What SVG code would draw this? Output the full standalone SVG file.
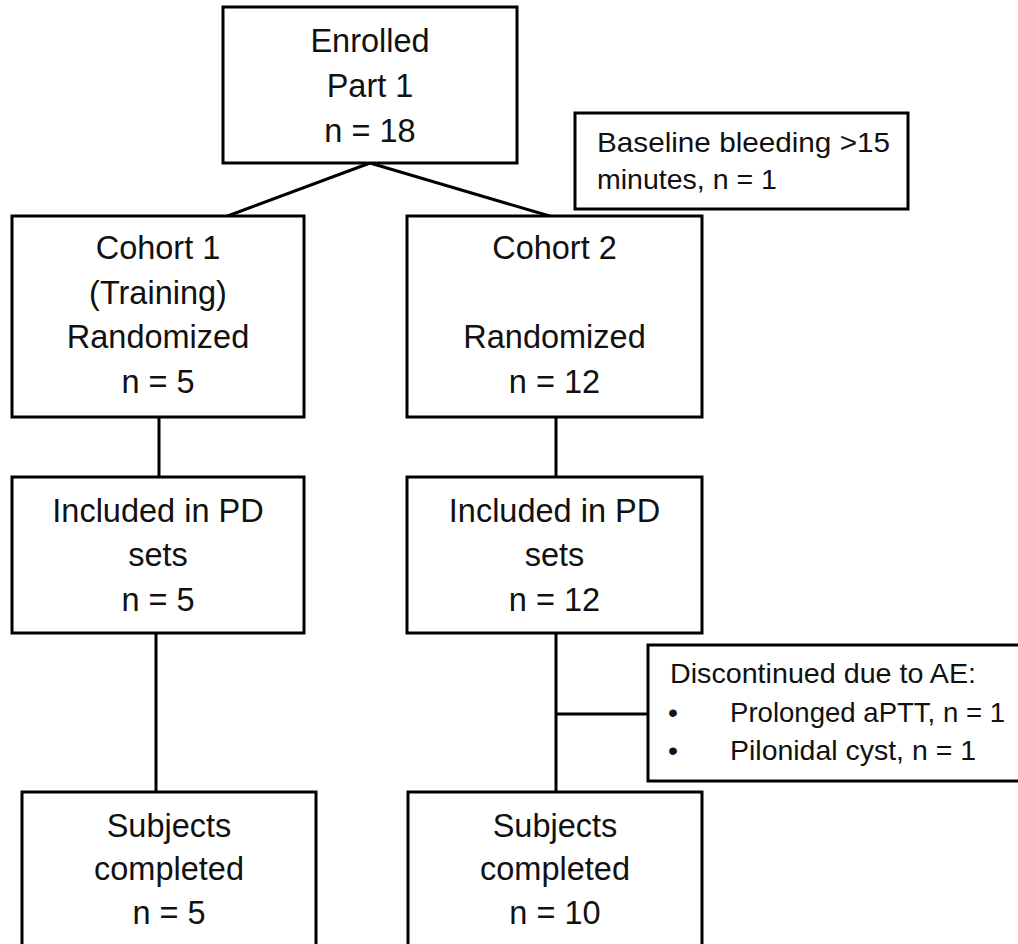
<svg xmlns="http://www.w3.org/2000/svg" width="1018" height="944" viewBox="0 0 1018 944">
<style>
.box{fill:#fff;stroke:#000;stroke-width:3}
.t{font-family:"Liberation Sans",Arial,sans-serif;font-size:32.5px;fill:#111;text-anchor:middle}
.s{font-family:"Liberation Sans",Arial,sans-serif;font-size:28.5px;fill:#111}
.c{stroke:#000;stroke-width:3;fill:none}
</style>
<rect width="1018" height="944" fill="#fff"/>
<g id="connectors">
<line class="c" x1="370" y1="163" x2="225" y2="217" stroke-width="4"/>
<line class="c" x1="370" y1="163" x2="553" y2="217" stroke-width="4"/>
<line class="c" x1="159" y1="417" x2="159" y2="477"/>
<line class="c" x1="556" y1="417" x2="556" y2="477"/>
<line class="c" x1="156" y1="633" x2="156" y2="792"/>
<line class="c" x1="556" y1="633" x2="556" y2="792"/>
<line class="c" x1="556" y1="714" x2="648" y2="714"/>
</g>
<g id="enrolled">
<rect class="box" x="223" y="7" width="294" height="156"/>
<text class="t" x="370" y="52">Enrolled</text>
<text class="t" x="370" y="97">Part 1</text>
<text class="t" x="370" y="142">n = 18</text>
</g>
<g id="baseline">
<rect class="box" x="575" y="113" width="333" height="96"/>
<text class="s" x="597" y="152" textLength="293" lengthAdjust="spacingAndGlyphs">Baseline bleeding &gt;15</text>
<text class="s" x="597" y="189">minutes, n = 1</text>
</g>
<g id="cohort1">
<rect class="box" x="12" y="216" width="292" height="201"/>
<text class="t" x="158" y="259">Cohort 1</text>
<text class="t" x="158" y="304">(Training)</text>
<text class="t" x="158" y="348">Randomized</text>
<text class="t" x="158" y="393">n = 5</text>
</g>
<g id="cohort2">
<rect class="box" x="407" y="216" width="295" height="201"/>
<text class="t" x="554.5" y="259">Cohort 2</text>
<text class="t" x="554.5" y="348">Randomized</text>
<text class="t" x="554.5" y="393">n = 12</text>
</g>
<g id="pd1">
<rect class="box" x="12" y="477" width="292" height="156"/>
<text class="t" x="158" y="522">Included in PD</text>
<text class="t" x="158" y="566">sets</text>
<text class="t" x="158" y="611">n = 5</text>
</g>
<g id="pd2">
<rect class="box" x="407" y="477" width="295" height="156"/>
<text class="t" x="554.5" y="522">Included in PD</text>
<text class="t" x="554.5" y="566">sets</text>
<text class="t" x="554.5" y="611">n = 12</text>
</g>
<g id="discontinued">
<rect class="box" x="648" y="645" width="380" height="136"/>
<text class="s" x="670" y="683" textLength="306" lengthAdjust="spacingAndGlyphs">Discontinued due to AE:</text>
<text class="s" x="668" y="722">•</text>
<text class="s" x="730" y="722" textLength="275" lengthAdjust="spacingAndGlyphs">Prolonged aPTT, n = 1</text>
<text class="s" x="668" y="760">•</text>
<text class="s" x="730" y="760" textLength="246" lengthAdjust="spacingAndGlyphs">Pilonidal cyst, n = 1</text>
</g>
<g id="completed1">
<rect class="box" x="22" y="792" width="294" height="170"/>
<text class="t" x="169" y="837">Subjects</text>
<text class="t" x="169" y="880">completed</text>
<text class="t" x="169" y="924">n = 5</text>
</g>
<g id="completed2">
<rect class="box" x="408" y="792" width="294" height="170"/>
<text class="t" x="555" y="837">Subjects</text>
<text class="t" x="555" y="880">completed</text>
<text class="t" x="555" y="924">n = 10</text>
</g>
</svg>
